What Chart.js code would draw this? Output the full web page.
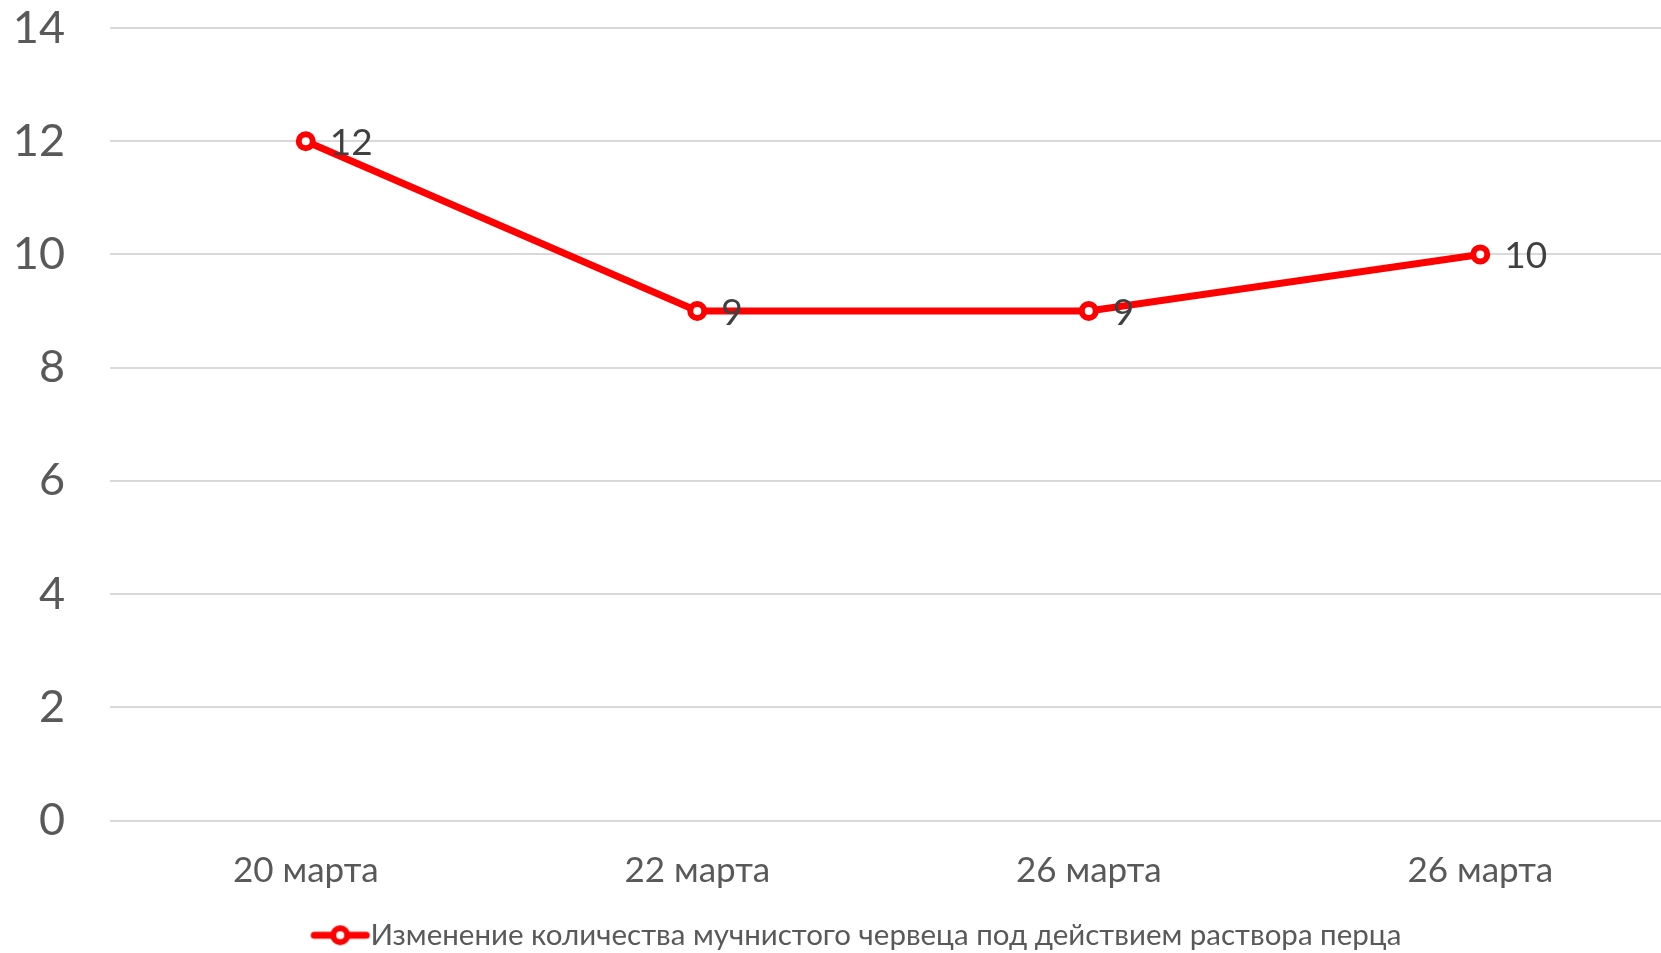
<!DOCTYPE html>
<html>
<head>
<meta charset="utf-8">
<script src="https://cdn.jsdelivr.net/npm/chart.js@4"></script>
<style>
html,body{margin:0;padding:0;background:#fff;overflow:hidden;}
#wrap{width:1661px;height:953px;position:relative;overflow:hidden;}
canvas{display:block;}
</style>
</head>
<body>
<div id="wrap"><canvas id="c" width="1676" height="953"></canvas></div>
<script>
const categories = ["20 марта", "22 марта", "26 марта", "26 марта"];
const seriesName = "Изменение количества мучнистого червеца под действием раствора перца";
const seriesValues = [12, 9, 9, 10];
const yTicks = [0, 2, 4, 6, 8, 10, 12, 14];

const FONT = "Lato, 'Open Sans', sans-serif";
const RED = "#ff0000";

// legend symbol: line with circle marker (offset inside a wider transparent canvas)
function makeLegendSymbol() {
  const cv = document.createElement('canvas');
  cv.width = 140; cv.height = 22;
  const g = cv.getContext('2d');
  const cx = 95;
  g.strokeStyle = RED; g.lineWidth = 7; g.lineCap = 'round';
  g.beginPath(); g.moveTo(cx - 26, 11); g.lineTo(cx + 26, 11); g.stroke();
  g.beginPath(); g.arc(cx, 11, 7, 0, Math.PI * 2);
  g.fillStyle = '#fff'; g.fill(); g.lineWidth = 6; g.stroke();
  return cv;
}
const legendSymbol = makeLegendSymbol();

const dataLabelPlugin = {
  id: 'dataLabels',
  afterDatasetsDraw(chart) {
    const ctx = chart.ctx;
    const meta = chart.getDatasetMeta(0);
    ctx.save();
    ctx.font = "37px " + FONT;
    ctx.fillStyle = "#404040";
    ctx.textAlign = 'left';
    ctx.textBaseline = 'middle';
    meta.data.forEach((pt, i) => {
      ctx.fillText(String(chart.data.datasets[0].data[i]), pt.x + 24, pt.y + 2);
    });
    ctx.restore();
  }
};

new Chart(document.getElementById('c'), {
  type: 'line',
  data: {
    labels: categories,
    datasets: [{
      label: seriesName,
      data: seriesValues,
      borderColor: RED,
      backgroundColor: '#ffffff',
      borderWidth: 7,
      pointRadius: 7,
      pointBorderWidth: 6,
      pointBackgroundColor: '#ffffff',
      pointBorderColor: RED,
      pointHoverRadius: 7,
      tension: 0,
      fill: false
    }]
  },
  options: {
    responsive: false,
    animation: false,
    devicePixelRatio: 1,
    layout: { autoPadding: false, padding: { top: 28, right: 0, bottom: -7, left: 0 } },
    plugins: {
      tooltip: { enabled: false },
      legend: {
        position: 'bottom',
        labels: {
          usePointStyle: true,
          pointStyleWidth: 81,
          color: '#595959',
          font: { family: FONT, size: 29.5 },
          padding: 0,
          generateLabels(chart) {
            return [{
              text: seriesName,
              pointStyle: legendSymbol,
              fillStyle: RED,
              strokeStyle: RED,
              lineWidth: 0,
              datasetIndex: 0,
              hidden: false,
              fontColor: '#595959'
            }];
          }
        }
      }
    },
    scales: {
      x: {
        offset: true,
        afterFit(scale) { scale.paddingLeft = 0; scale.paddingRight = 0; },
        grid: { display: false, drawTicks: false },
        border: { display: false },
        ticks: { color: '#595959', font: { family: FONT, size: 35 }, padding: 29, maxRotation: 0 }
      },
      y: {
        min: 0, max: 14,
        afterBuildTicks(scale) { scale.ticks = yTicks.map(v => ({ value: v })); },
        afterFit(scale) { scale.width = 110; scale.paddingTop = 0; scale.paddingBottom = 0; },
        grid: { color: '#d9d9d9', lineWidth: 2, drawTicks: false },
        border: { display: false },
        ticks: { color: '#595959', font: { family: FONT, size: 45 }, padding: 45 }
      }
    }
  },
  plugins: [dataLabelPlugin]
});
</script>
</body>
</html>
